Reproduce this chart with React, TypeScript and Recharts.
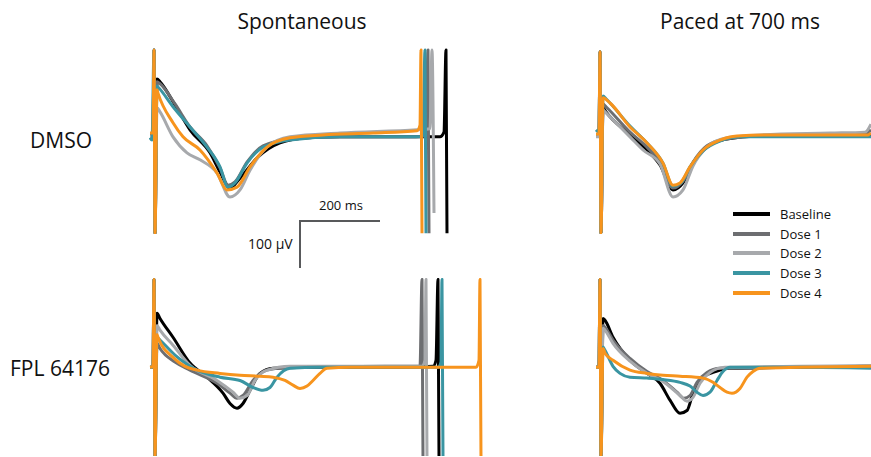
import React from 'react'
import { LineChart, Line, XAxis, YAxis } from 'recharts'

type Pt = [number, number] // [ms, µV]

const seriesNames = ['Baseline', 'Dose 1', 'Dose 2', 'Dose 3', 'Dose 4']
const seriesColors = ['#000000', '#6d6e71', '#a7a9ac', '#3a95a2', '#f7941d']
const columnTitles = ['Spontaneous', 'Paced at 700 ms']
const rowLabels = ['DMSO', 'FPL 64176']
const scaleBarMs = 200
const scaleBarUv = 100

// DMSO, spontaneous
const dmsoSpontBaseline: Pt[] = [[-12.5, -2], [-5, -2], [-2.5, 181], [0, -209], [5, 119], [12.5, 113], [50, 64], [87.5, 11], [137.5, -38], [162.5, -79], [187.5, -113], [212.5, -92], [255, -49], [312.5, -17], [380, -6], [462.5, -4], [650, -4], [712.5, -4], [722.5, 6], [727.5, 181], [730, -209]]
const dmsoSpontDose1: Pt[] = [[-12.5, 0], [-5, 0], [-2.5, 181], [0, -209], [5, 113], [12.5, 109], [50, 66], [87.5, 17], [130, -23], [162.5, -70], [182.5, -107], [200, -100], [230, -58], [270, -23], [337.5, -9], [462.5, -4], [650, -4], [677.5, -2], [682.5, 181], [685, -209]]
const dmsoSpontDose2: Pt[] = [[-12.5, -4], [-5, -4], [-2.5, 181], [0, -209], [5, 58], [12.5, 49], [45, -4], [80, -38], [112.5, -53], [155, -81], [187.5, -132], [212.5, -117], [237.5, -75], [280, -26], [337.5, -4], [462.5, 4], [655, 11], [687.5, 13], [692.5, 181], [697.5, -166]]
const dmsoSpontDose3: Pt[] = [[-12.5, -6], [-7.5, -11], [-2.5, 181], [0, -209], [5, 104], [7.5, 102], [45, 60], [87.5, 17], [130, -26], [162.5, -68], [182.5, -111], [200, -102], [230, -60], [270, -26], [337.5, -11], [462.5, -4], [655, -4], [670, -2], [675, 181], [677.5, -209]]
const dmsoSpontDose4: Pt[] = [[-12.5, 4], [-5, 4], [-2.5, 181], [0, -209], [5, 96], [7.5, 89], [45, 26], [70, -4], [112.5, -32], [155, -81], [180, -117], [205, -111], [237.5, -68], [280, -26], [337.5, -6], [420, 0], [545, 4], [655, 9], [662.5, 21], [665, 181], [667.5, -209]]

// DMSO, paced at 700 ms
const dmsoPacedBaseline: Pt[] = [[-12.5, 0], [-5, 0], [-2.5, 177], [0, -209], [5, 58], [12.5, 49], [72.5, 0], [115, -32], [147.5, -64], [180, -117], [205, -102], [230, -60], [265, -26], [310, -9], [397.5, -2], [547.5, -2], [675, 0]]
const dmsoPacedDose1: Pt[] = [[-12.5, 0], [-5, 0], [-2.5, 177], [0, -209], [5, 66], [12.5, 60], [72.5, 6], [115, -26], [147.5, -58], [180, -113], [205, -98], [230, -58], [265, -23], [310, -9], [397.5, -2], [547.5, 0], [662.5, 2], [675, 11]]
const dmsoPacedDose2: Pt[] = [[-12.5, -4], [-5, -4], [-2.5, 177], [0, -209], [5, 53], [12.5, 47], [72.5, -4], [105, -32], [147.5, -62], [180, -132], [205, -117], [230, -66], [265, -26], [315, -6], [397.5, 0], [572.5, 4], [660, 6], [675, 23]]
const dmsoPacedDose3: Pt[] = [[-12.5, 11], [-5, 6], [-2.5, 177], [0, -209], [5, 83], [12.5, 77], [72.5, 19], [115, -17], [155, -60], [180, -109], [200, -102], [222.5, -68], [255, -34], [297.5, -13], [347.5, -4], [497.5, -4], [675, -4]]
const dmsoPacedDose4: Pt[] = [[-12.5, 2], [-5, 2], [-2.5, 177], [0, -209], [5, 79], [22.5, 68], [72.5, 17], [115, -17], [155, -60], [180, -107], [197.5, -102], [222.5, -68], [255, -32], [297.5, -11], [340, -2], [422.5, 0], [547.5, 0], [667.5, 0], [675, 4]]

// FPL 64176, spontaneous
const fplSpontBaseline: Pt[] = [[-12.5, 0], [-5, 0], [-2.5, 187], [0, -190], [5, 115], [12.5, 104], [45, 64], [87.5, 9], [130, -21], [170, -55], [187.5, -77], [205, -87], [220, -77], [237.5, -49], [262.5, -13], [295, -2], [412.5, 0], [612.5, 0], [695, 2], [702.5, 15], [707.5, 187], [710, -190]]
const fplSpontDose1: Pt[] = [[-12.5, 0], [-5, 0], [-2.5, 187], [0, -190], [5, 51], [12.5, 40], [50, 11], [87.5, -6], [155, -34], [187.5, -55], [205, -66], [220, -60], [245, -28], [280, -6], [337.5, 0], [612.5, 2], [662.5, 2], [667.5, 187], [670, -190]]
const fplSpontDose2: Pt[] = [[-12.5, 0], [-5, 0], [-2.5, 187], [0, -190], [5, 89], [12.5, 79], [45, 47], [87.5, 4], [155, -28], [195, -53], [212.5, -66], [230, -60], [250, -28], [280, -6], [337.5, 2], [612.5, 2], [667.5, 2], [675, 15], [677.5, 187], [680, -190]]
const fplSpontDose3: Pt[] = [[-12.5, 0], [-5, 0], [-2.5, 187], [0, -190], [5, 64], [12.5, 58], [50, 26], [105, -6], [162.5, -21], [212.5, -28], [245, -43], [270, -49], [287.5, -43], [305, -21], [337.5, -2], [412.5, 0], [612.5, 0], [707.5, 0], [715, 11], [717.5, 187], [720, -190]]
const fplSpontDose4: Pt[] = [[-12.5, 0], [-5, 2], [-2.5, 187], [0, -190], [5, 70], [7.5, 64], [45, 21], [75, 2], [105, -6], [162.5, -13], [212.5, -17], [262.5, -19], [295, -21], [325, -28], [345, -38], [362.5, -45], [380, -40], [395, -28], [412.5, -13], [430, -2], [487.5, 0], [612.5, 0], [802.5, 0], [810, 15], [812.5, 187], [815, -190]]

// FPL 64176, paced at 700 ms
const fplPacedBaseline: Pt[] = [[-12.5, 0], [-5, 0], [-2.5, 187], [0, -190], [5, 104], [10, 100], [30, 64], [72.5, 15], [115, -13], [147.5, -34], [172.5, -70], [197.5, -98], [215, -92], [230, -55], [255, -21], [280, -11], [322.5, -2], [497.5, 0], [675, 2]]
const fplPacedDose1: Pt[] = [[-12.5, 0], [-5, 0], [-2.5, 187], [0, -190], [5, 89], [10, 85], [30, 58], [72.5, 19], [115, -9], [155, -28], [190, -53], [207.5, -66], [222.5, -60], [240, -32], [265, -11], [297.5, -2], [497.5, 0], [675, 2]]
const fplPacedDose2: Pt[] = [[-12.5, 0], [-5, 0], [-2.5, 187], [0, -190], [5, 83], [10, 79], [30, 51], [72.5, 13], [115, -13], [155, -30], [197.5, -60], [215, -72], [230, -64], [247.5, -34], [272.5, -11], [310, 0], [497.5, 2], [675, 4]]
const fplPacedDose3: Pt[] = [[-12.5, 0], [-5, 0], [-2.5, 187], [0, -190], [5, 43], [10, 36], [30, 2], [47.5, -13], [72.5, -21], [115, -23], [155, -26], [197.5, -32], [222.5, -40], [240, -53], [255, -60], [272.5, -53], [290, -28], [305, -9], [322.5, 0], [497.5, 0], [675, -2]]
const fplPacedDose4: Pt[] = [[-12.5, 0], [-5, 0], [-2.5, 187], [0, -190], [5, 40], [10, 30], [30, 15], [72.5, -6], [115, -13], [155, -17], [197.5, -19], [255, -23], [280, -32], [297.5, -43], [315, -53], [327.5, -55], [347.5, -45], [365, -21], [380, -9], [397.5, -2], [497.5, 0], [675, 2]]

const PX_PER_MS = 0.4
const PX_PER_UV = 0.47
const FONT = '"Open Sans", "Noto Sans", sans-serif'

interface PanelProps {
  zeroX: number
  zeroY: number
  xDomain: [number, number]
  yDomain: [number, number]
  traces: Pt[][]
}

function Panel({ zeroX, zeroY, xDomain, yDomain, traces }: PanelProps) {
  const width = (xDomain[1] - xDomain[0]) * PX_PER_MS
  const height = (yDomain[1] - yDomain[0]) * PX_PER_UV
  const left = zeroX + xDomain[0] * PX_PER_MS
  const top = zeroY - yDomain[1] * PX_PER_UV
  return (
    <div style={{ position: 'absolute', left, top }}>
      <LineChart width={width} height={height} margin={{ top: 0, right: 0, bottom: 0, left: 0 }}>
        <XAxis type="number" dataKey="t" domain={xDomain} hide />
        <YAxis type="number" dataKey="v" domain={yDomain} hide />
        {traces.map((tr, i) => (
          <Line
            key={seriesNames[i]}
            name={seriesNames[i]}
            data={tr.map(([t, v]) => ({ t, v }))}
            dataKey="v"
            type="monotone"
            stroke={seriesColors[i]}
            strokeWidth={3}
            strokeLinejoin="round"
            dot={false}
            activeDot={false}
            isAnimationActive={false}
          />
        ))}
      </LineChart>
    </div>
  )
}

export default function App() {
  const label = { position: 'absolute' as const, fontFamily: FONT, color: '#111', whiteSpace: 'nowrap' as const, lineHeight: 1 }
  const barX = 300
  const barY = 221
  return (
    <div style={{ position: 'absolute', left: 0, top: 0, width: 871, height: 457, background: '#fff', overflow: 'hidden' }}>
      <div style={{ ...label, left: 202, width: 200, top: 11, fontSize: 21, textAlign: 'center' }}>{columnTitles[0]}</div>
      <div style={{ ...label, left: 640, width: 200, top: 11, fontSize: 21, textAlign: 'center' }}>{columnTitles[1]}</div>
      <div style={{ ...label, left: 30, top: 130, fontSize: 21 }}>{rowLabels[0]}</div>
      <div style={{ ...label, left: 10, top: 358, fontSize: 21 }}>{rowLabels[1]}</div>

      <Panel zeroX={155} zeroY={135} xDomain={[-15, 750]} yDomain={[-210, 185]}
        traces={[dmsoSpontBaseline, dmsoSpontDose1, dmsoSpontDose2, dmsoSpontDose3, dmsoSpontDose4]} />
      <Panel zeroX={601} zeroY={135} xDomain={[-15, 675]} yDomain={[-210, 185]}
        traces={[dmsoPacedBaseline, dmsoPacedDose1, dmsoPacedDose2, dmsoPacedDose3, dmsoPacedDose4]} />
      <Panel zeroX={155} zeroY={367} xDomain={[-15, 850]} yDomain={[-190, 190]}
        traces={[fplSpontBaseline, fplSpontDose1, fplSpontDose2, fplSpontDose3, fplSpontDose4]} />
      <Panel zeroX={601} zeroY={367} xDomain={[-15, 675]} yDomain={[-190, 190]}
        traces={[fplPacedBaseline, fplPacedDose1, fplPacedDose2, fplPacedDose3, fplPacedDose4]} />

      {/* scale bar */}
      <svg style={{ position: 'absolute', left: 0, top: 0 }} width={871} height={457} pointerEvents="none">
        <path d={`M${barX + scaleBarMs * PX_PER_MS},${barY} H${barX} V${barY + scaleBarUv * PX_PER_UV}`}
          fill="none" stroke="#58595b" strokeWidth={2} />
      </svg>
      <div style={{ ...label, left: barX + 19, top: barY - 22, fontSize: 13 }}>{`${scaleBarMs} ms`}</div>
      <div style={{ ...label, left: 248, top: barY + 16, fontSize: 14 }}>{`${scaleBarUv} µV`}</div>

      {/* legend */}
      {seriesNames.map((name, i) => (
        <div key={name} style={{ position: 'absolute', left: 733, top: 206 + i * 19.7, height: 16, display: 'flex', alignItems: 'center' }}>
          <div style={{ width: 37, height: 4, background: seriesColors[i] }} />
          <span style={{ marginLeft: 10, fontFamily: FONT, fontSize: 13, color: '#111' }}>{name}</span>
        </div>
      ))}
    </div>
  )
}
